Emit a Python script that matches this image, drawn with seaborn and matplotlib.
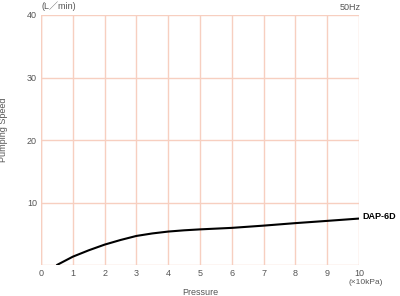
import matplotlib
matplotlib.use("Agg")
import matplotlib.pyplot as plt
import seaborn as sns
import pandas as pd

pressure = [0.5, 1.0, 1.5, 2.0, 2.5, 3.0, 3.5, 4.0, 4.5, 5.0, 6.0, 7.0, 8.0, 9.0, 10.0]
speed = [0.0, 1.33, 2.35, 3.26, 4.0, 4.65, 5.05, 5.35, 5.55, 5.7, 5.94, 6.3, 6.7, 7.06, 7.43]
xticks = list(range(0, 11))
yticks = [10, 20, 30, 40]

df = pd.DataFrame({"Pressure": pressure, "Speed": speed})

sns.set_theme(style="white")
plt.rcParams['font.family'] = ['Liberation Sans', 'Noto Sans CJK JP', 'DejaVu Sans']
grid_c = "#f7cfc0"
txt_c = "#555555"

fig = plt.figure(figsize=(4.0, 2.96), dpi=100)
ax = fig.add_axes([41/400, 31/296, 318/400, 250/296])
sns.lineplot(data=df, x="Pressure", y="Speed", ax=ax, color="black", linewidth=1.5)
ax.set_xlim(0, 10)
ax.set_ylim(0, 40)
ax.set_xticks(xticks)
ax.set_yticks(yticks)
ax.set_xticklabels([str(t) for t in xticks])
ax.grid(True, color=grid_c, linewidth=1.0)
ax.set_axisbelow(True)
for s in ax.spines.values():
    s.set_visible(False)
ax.axhline(0, color=grid_c, linewidth=1.0, zorder=0)
ax.axvline(0, color=grid_c, linewidth=1.0, zorder=0)
ax.tick_params(axis="both", length=0, labelsize=6.5, colors=txt_c, pad=3)
ax.set_xlabel("Pressure", fontsize=6.5, color=txt_c, labelpad=7)
ax.set_ylabel("Pumping Speed", fontsize=6.5, color=txt_c)
ax.yaxis.set_label_coords(-0.105, 0.54)
ax.text(0.0, 1.015, "(L／min)", transform=ax.transAxes, fontsize=6.5, color=txt_c,
        ha="left", va="bottom")
ax.text(1.005, 1.01, "50Hz", transform=ax.transAxes, fontsize=6.5, color=txt_c,
        ha="right", va="bottom")
ax.text(1.02, -0.055, "(×10kPa)", transform=ax.transAxes, fontsize=6, color=txt_c,
        ha="center", va="top")
ax.text(pressure[-1] + 0.1, speed[-1] + 0.3, "DAP-6D", fontsize=6.5, fontweight="bold",
        color="black", ha="left", va="center")
fig.savefig("out.png", dpi=100)
